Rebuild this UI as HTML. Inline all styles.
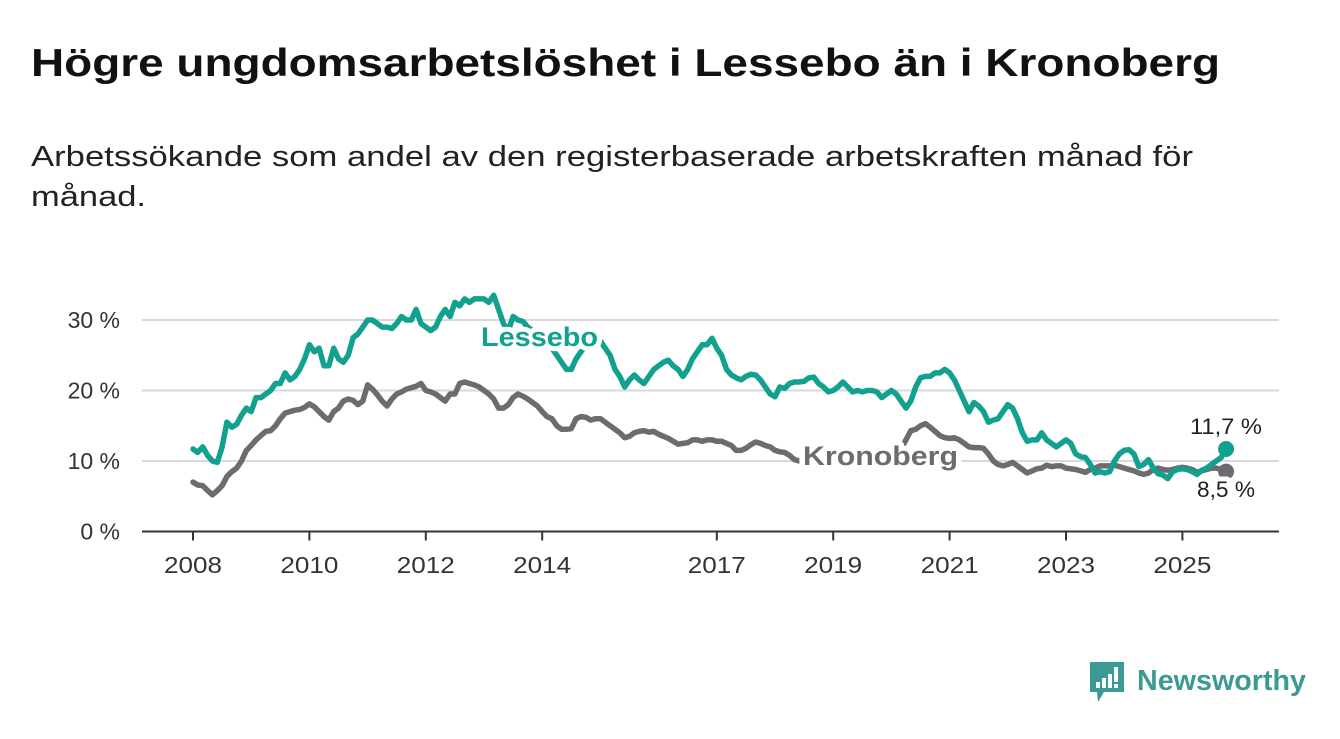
<!DOCTYPE html>
<html><head><meta charset="utf-8">
<style>
html,body{margin:0;padding:0;background:#fff;}
body{width:1340px;height:734px;overflow:hidden;font-family:"Liberation Sans",sans-serif;}
svg text{font-family:"Liberation Sans",sans-serif;}
</style></head>
<body>
<svg width="1340" height="734" viewBox="0 0 1340 734" xmlns="http://www.w3.org/2000/svg">
<text x="31" y="76" font-size="39" font-weight="bold" fill="#111" textLength="1189" lengthAdjust="spacingAndGlyphs">Högre ungdomsarbetslöshet i Lessebo än i Kronoberg</text>
<text x="31" y="166" font-size="29" fill="#222" textLength="1162" lengthAdjust="spacingAndGlyphs">Arbetssökande som andel av den registerbaserade arbetskraften månad för</text>
<text x="31" y="206" font-size="29" fill="#222" textLength="115" lengthAdjust="spacingAndGlyphs">månad.</text>
<g id="grid"></g>
<g id="yaxis"></g>
<g id="xaxis"></g>
<g id="series"></g>
<g id="labels"></g>
<g>
<path d="M1090 662 h34 v30 h-20 l-6 10 l-1 -10 h-7 z" fill="#3b9a93"/>
<rect x="1096" y="682" width="4" height="6" fill="#fff"/>
<rect x="1102" y="678" width="4" height="10" fill="#fff"/>
<rect x="1108" y="674" width="4" height="14" fill="#fff"/>
<rect x="1114" y="667" width="4" height="15" fill="#fff"/>
<rect x="1114" y="684" width="4" height="4" fill="#fff"/>
<text x="1137" y="690" font-size="29" font-weight="bold" fill="#3b9a93" textLength="169" lengthAdjust="spacingAndGlyphs">Newsworthy</text>
</g>
</svg>
<script>
const yTicks=[0,10,20,30];
const yTickLabels=["0 %","10 %","20 %","30 %"];
const xTickYears=[2008,2010,2012,2014,2017,2019,2021,2023,2025];
const xTickLabels=["2008","2010","2012","2014","2017","2019","2021","2023","2025"];
const startYear=2008, startMonth=0;
const lessebo=[
11.7,11.2,12.0,10.8,10.0,9.8,12.0,15.5,14.8,15.2,16.5,17.5,
17.0,19.0,19.0,19.5,20.0,21.0,21.0,22.5,21.5,22.0,23.0,24.5,
26.5,25.5,26.0,23.5,23.5,26.0,24.5,24.0,25.0,27.5,28.0,29.0,
30.0,30.0,29.5,29.0,29.0,28.8,29.5,30.5,30.0,30.0,31.5,29.5,
29.0,28.5,29.0,30.5,31.5,30.5,32.5,32.0,33.0,32.5,33.0,33.0,
33.0,32.5,33.5,31.5,29.5,28.5,30.5,30.0,29.8,29.0,28.5,28.0,
27.0,26.5,26.0,25.0,24.0,23.0,23.0,24.5,25.5,26.5,27.0,27.0,
27.0,26.0,25.0,23.0,22.0,20.5,21.5,22.2,21.5,21.0,22.0,23.0,
23.5,24.0,24.3,23.5,23.0,22.0,23.0,24.5,25.5,26.5,26.5,27.4,
26.0,25.0,23.0,22.2,21.8,21.5,22.0,22.3,22.2,21.5,20.5,19.5,
19.1,20.5,20.3,21.0,21.2,21.2,21.3,21.8,21.9,21.0,20.5,19.8,
20.0,20.5,21.2,20.5,19.8,20.0,19.8,20.0,20.0,19.8,19.0,19.5,
20.0,19.5,18.5,17.5,18.5,20.5,21.8,22.0,22.0,22.5,22.5,23.0,
22.5,21.5,20.0,18.5,17.0,18.3,17.8,17.0,15.5,15.8,16.0,17.0,
18.0,17.5,16.0,14.0,12.8,13.0,13.0,14.0,13.0,12.5,12.0,12.5,
13.0,12.5,11.0,10.6,10.5,9.5,8.3,8.5,8.3,8.5,10.0,11.0,
11.5,11.6,11.0,9.2,9.5,10.2,9.0,8.2,8.0,7.5,8.5,8.8,
8.9,8.8,8.5,8.1,8.7,9.0,9.5,10.0,10.5,11.7];
const kronoberg=[
7.0,6.6,6.5,5.8,5.2,5.8,6.5,7.8,8.5,9.0,10.0,11.5,
12.2,13.0,13.6,14.2,14.3,15.0,16.0,16.8,17.0,17.2,17.3,17.6,
18.1,17.7,17.0,16.3,15.8,17.0,17.5,18.5,18.8,18.6,18.0,18.5,
20.8,20.2,19.4,18.5,17.8,18.8,19.5,19.8,20.2,20.4,20.6,21.0,
20.0,19.8,19.5,19.0,18.5,19.5,19.5,21.0,21.2,21.0,20.8,20.5,
20.0,19.5,18.8,17.5,17.5,18.0,19.0,19.5,19.2,18.8,18.3,17.8,
17.0,16.3,16.0,15.0,14.5,14.5,14.6,16.0,16.3,16.2,15.8,16.0,
16.0,15.5,15.0,14.5,14.0,13.3,13.5,14.0,14.2,14.3,14.1,14.2,
13.8,13.5,13.2,12.8,12.4,12.5,12.6,13.0,13.0,12.8,13.0,13.0,
12.8,12.8,12.5,12.2,11.5,11.5,11.8,12.3,12.7,12.5,12.2,12.0,
11.5,11.3,11.2,10.8,10.2,10.0,10.0,9.8,9.8,10.0,9.7,9.5,
9.8,9.5,9.6,9.8,9.5,9.4,9.6,9.7,9.5,9.6,9.8,10.0,
10.5,11.0,11.8,13.0,14.3,14.5,15.0,15.3,14.8,14.2,13.6,13.3,
13.2,13.3,13.0,12.5,12.0,11.9,11.9,11.8,11.0,10.0,9.5,9.3,
9.5,9.8,9.3,8.8,8.3,8.6,8.9,9.0,9.4,9.2,9.3,9.3,
9.0,8.9,8.8,8.6,8.4,8.8,9.0,9.3,9.3,9.3,9.4,9.2,
9.0,8.8,8.6,8.3,8.1,8.3,8.8,9.0,8.8,8.7,8.8,9.0,
9.1,9.0,8.8,8.4,8.6,8.8,9.0,9.0,8.8,8.5];
const NS="http://www.w3.org/2000/svg";
const X0=193, PXY=58.2, Y0=531.5, PXP=7.05;
function xScale(yearFrac){return X0+(yearFrac-startYear)*PXY;}
function yScale(v){return Y0-v*PXP;}
function mk(tag,attrs,parent){const e=document.createElementNS(NS,tag);for(const k in attrs)e.setAttribute(k,attrs[k]);parent.appendChild(e);return e;}
const grid=document.getElementById('grid'),yax=document.getElementById('yaxis'),xax=document.getElementById('xaxis'),ser=document.getElementById('series'),lab=document.getElementById('labels');
yTicks.forEach((t,i)=>{
 if(t>0){const g=mk('line',{x1:142,x2:1279,y1:yScale(t),y2:yScale(t),stroke:'#d9d9d9','stroke-width':2},grid);
 
 }
 const tx=mk('text',{x:120,y:yScale(t)+8,'text-anchor':'end','font-size':23,fill:'#333'},yax);
 tx.textContent=yTickLabels[i];
 
 
});
const base=mk('line',{x1:142,x2:1279,y1:Y0,y2:Y0,stroke:'#333','stroke-width':2},xax);


xTickYears.forEach((yr,i)=>{
 const x=xScale(yr);
 const tk=mk('line',{x1:x,x2:x,y1:Y0,y2:Y0+9,stroke:'#333','stroke-width':2},xax);
 
 
 const tx=mk('text',{x:x,y:573,'text-anchor':'middle','font-size':23,fill:'#333',textLength:58,lengthAdjust:'spacingAndGlyphs'},xax);
 tx.textContent=xTickLabels[i];
 
 
});
function pts(arr){return arr.map((v,i)=>xScale(startYear+(startMonth+i)/12).toFixed(1)+','+yScale(v).toFixed(1)).join(' ');}
const kl=mk('polyline',{points:pts(kronoberg),fill:'none',stroke:'#6d6a70','stroke-width':5.5,'stroke-linejoin':'round','stroke-linecap':'round'},ser);


const ll=mk('polyline',{points:pts(lessebo),fill:'none',stroke:'#12a08f','stroke-width':5.5,'stroke-linejoin':'round','stroke-linecap':'round'},ser);


const nK=kronoberg.length-1,nL=lessebo.length-1;
const kd=mk('circle',{cx:xScale(startYear+nK/12),cy:yScale(kronoberg[nK]),r:8,fill:'#6d6a70'},ser);


const ld=mk('circle',{cx:xScale(startYear+nL/12),cy:yScale(lessebo[nL]),r:8,fill:'#12a08f'},ser);


function halo(t){t.setAttribute('stroke','#fff');t.setAttribute('stroke-width','10');t.setAttribute('paint-order','stroke');t.setAttribute('stroke-linejoin','round');}
const lt=mk('text',{x:481,y:346,'font-size':27,'font-weight':'bold',fill:'#12a08f',textLength:117,lengthAdjust:'spacingAndGlyphs'},lab);
lt.textContent='Lessebo';halo(lt);


const kt=mk('text',{x:803,y:465,'font-size':27,'font-weight':'bold',fill:'#6d6a70',textLength:155,lengthAdjust:'spacingAndGlyphs'},lab);
kt.textContent='Kronoberg';halo(kt);


const lv=mk('text',{x:1226,y:434,'font-size':22,'text-anchor':'middle',fill:'#222',textLength:72,lengthAdjust:'spacingAndGlyphs'},lab);
lv.textContent='11,7 %';halo(lv);


const kv=mk('text',{x:1226,y:497,'font-size':22,'text-anchor':'middle',fill:'#222',textLength:58,lengthAdjust:'spacingAndGlyphs'},lab);
kv.textContent='8,5 %';halo(kv);


</script>
</body></html>
